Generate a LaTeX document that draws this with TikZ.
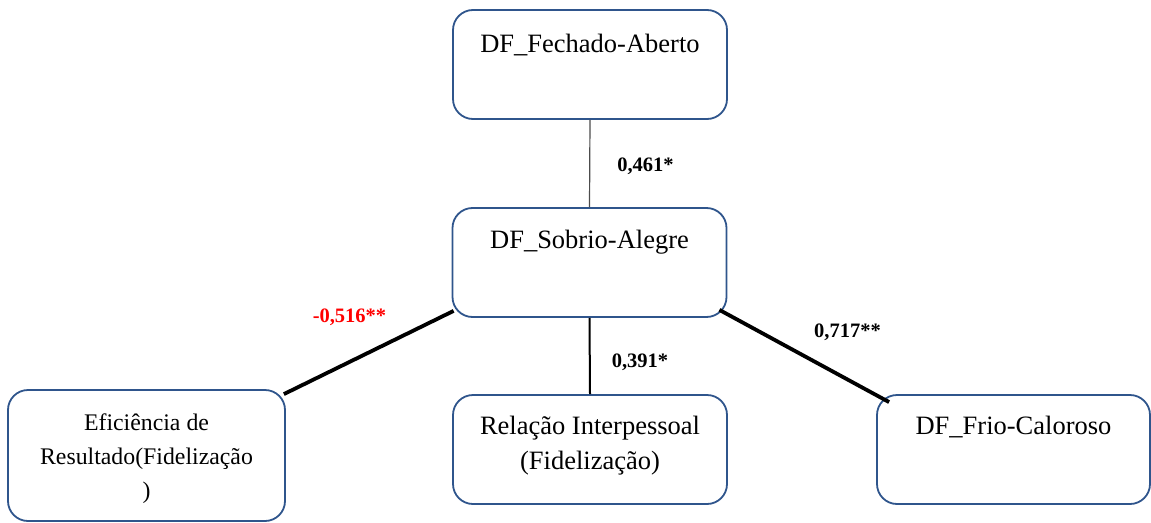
\documentclass[tikz,border=0pt]{standalone}
\usepackage{fontspec}
\setmainfont{Liberation Serif}
\usetikzlibrary{calc}
\definecolor{boxblue}{RGB}{47,85,140}
\begin{document}
\begin{tikzpicture}[x=1pt,y=-1pt,
  box/.style={draw=boxblue,line width=1.8pt,rounded corners=20pt,fill=white,
    inner sep=0pt,minimum width=#1},
  box/.default=274pt,
  txt/.style={font=\fontsize{26.5}{35}\selectfont,align=center,inner sep=0pt},
  smalltxt/.style={font=\fontsize{23.8}{34}\selectfont,align=center,inner sep=0pt},
  coef/.style={font=\fontsize{20.5}{24}\selectfont\bfseries,inner sep=0pt},
  thin/.style={draw=black!70,line width=1.2pt},
  mid/.style={draw=black,line width=2pt},
  heavy/.style={draw=black,line width=3.8pt}]
\useasboundingbox (0,0) rectangle (1151,522);

% boxes
\node[box,minimum height=109pt] (top) at (590,64.5) {};
\node[box,minimum height=109pt] (sob) at (589.5,262.5) {};
\node[box=277pt,minimum height=131pt] (efi) at (146.5,455.5) {};
\node[box,minimum height=109pt] (rel) at (590,449.5) {};
\node[box=273pt,minimum height=109pt] (fri) at (1013.5,449.5) {};

% box texts
\node[txt] (tTop) at (590,45) {DF\_Fechado-Aberto};
\node[txt] (tSob) at (589.5,242) {DF\_Sobrio-Alegre};
\node[smalltxt] (tEfi) at (146.5,459) {Eficiência de\\Resultado(Fidelização\\)};
\node[txt] (tRel) at (590,446) {Relação Interpessoal\\(Fidelização)};
\node[txt] (tFri) at (1013.5,427) {DF\_Frio-Caloroso};

% connectors
\draw[thin] (top.south) -- (sob.north);
\draw[mid] (sob.south) -- (rel.north);
\coordinate (sobL) at ($(sob.south west)+(2,-7)$);
\coordinate (efiR) at ($(efi.north east)+(-2,5)$);
\coordinate (sobR) at ($(sob.south east)+(-8,-8)$);
\coordinate (friL) at ($(fri.north west)+(13,8)$);
\draw[heavy] (sobL) -- (efiR);
\draw[heavy] (sobR) -- (friL);

% coefficients
\node[coef] (c1) at (645.5,166) {0,461*};
\node[coef,text=red] (c2) at (349.5,317) {-0,516**};
\node[coef] (c3) at (640,362) {0,391*};
\node[coef] (c4) at (847.5,332) {0,717**};
\end{tikzpicture}
\end{document}
